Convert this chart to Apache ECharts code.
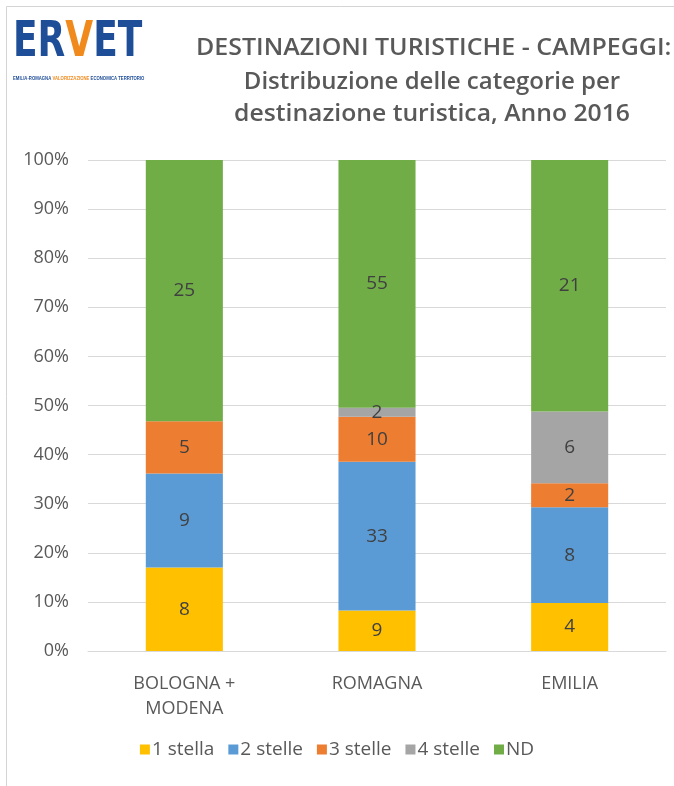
<!DOCTYPE html>
<html>
<head>
<meta charset="utf-8">
<script src="https://cdn.jsdelivr.net/npm/echarts@6/dist/echarts.min.js"></script>
<style>
  html, body { margin: 0; padding: 0; background: #fff; }
  #main { width: 674px; height: 786px; }
</style>
</head>
<body>
<div id="main"></div>
<script>
var chartDom = document.getElementById("main");
var myChart = echarts.init(chartDom);
var option;

// campeggi per categoria, anno 2016
const categories = ["BOLOGNA +\nMODENA", "ROMAGNA", "EMILIA"];
const stella1 = [8, 9, 4];
const stelle2 = [9, 33, 8];
const stelle3 = [5, 10, 2];
const stelle4 = [0, 2, 6];
const nd = [25, 55, 21];
const yTicks = [0, 10, 20, 30, 40, 50, 60, 70, 80, 90, 100];

const seriesDefs = [
  { name: "1 stella", data: stella1, color: "#FFC000" },
  { name: "2 stelle", data: stelle2, color: "#5B9BD5" },
  { name: "3 stelle", data: stelle3, color: "#ED7D31" },
  { name: "4 stelle", data: stelle4, color: "#A5A5A5" },
  { name: "ND", data: nd, color: "#70AD47" },
];

const totals = categories.map(function (c, i) {
  return seriesDefs.reduce(function (s, d) {
    return s + d.data[i];
  }, 0);
});

const titleStyle = {
  fontSize: 24,
  fontWeight: 600,
  fill: "#595959",
  fontFamily: "Open Sans",
  verticalAlign: "middle",
};

option = {
  animation: false,
  textStyle: { fontFamily: "Open Sans" },
  graphic: [
    {
      type: "rect",
      left: 4,
      top: 4,
      shape: { width: 680, height: 790 },
      style: { fill: "none", stroke: "#d4d4d4", lineWidth: 1 },
    },
    {
      type: "text",
      x: 13,
      y: 43,
      scaleX: 0.8,
      style: {
        text: "{e|ER}{v|V}{e|ET}",
        verticalAlign: "middle",
        rich: {
          e: { fontSize: 50, fontWeight: "bold", fill: "#1F4E99", fontFamily: "DejaVu Sans Condensed" },
          v: { fontSize: 50, fontWeight: "bold", fill: "#F08A1C", fontFamily: "DejaVu Sans Condensed" },
        },
      },
    },
    {
      type: "text",
      x: 13,
      y: 79,
      scaleX: 0.85,
      style: {
        text: "{a|EMILIA-ROMAGNA }{b|VALORIZZAZIONE }{a|ECONOMICA TERRITORIO}",
        verticalAlign: "middle",
        rich: {
          a: { fontSize: 5, fontWeight: "bold", fill: "#1F4E99" },
          b: { fontSize: 5, fontWeight: "bold", fill: "#F08A1C" },
        },
      },
    },
    {
      type: "text",
      x: 196,
      y: 48,
      scaleX: 1.04,
      style: Object.assign({ text: "DESTINAZIONI TURISTICHE - CAMPEGGI:", align: "left" }, titleStyle),
    },
    {
      type: "text",
      x: 432,
      y: 82,
      style: Object.assign({ text: "Distribuzione delle categorie per", align: "center" }, titleStyle),
    },
    {
      type: "text",
      x: 432,
      y: 114,
      scaleX: 1.03,
      style: Object.assign({ text: "destinazione turistica, Anno 2016", align: "center" }, titleStyle),
    },
  ],
  legend: {
    bottom: 22,
    left: "center",
    itemWidth: 10,
    itemHeight: 10,
    itemGap: 14,
    icon: "rect",
    textStyle: { fontSize: 19, color: "#595959", padding: [0, 0, 0, -3] },
    data: seriesDefs.map(function (d) {
      return d.name;
    }),
  },
  grid: {
    left: 88,
    right: 8,
    top: 160,
    bottom: 135,
  },
  xAxis: {
    type: "category",
    data: categories,
    axisTick: { show: false },
    axisLine: { lineStyle: { color: "#d9d9d9", width: 1 } },
    axisLabel: {
      fontSize: 18,
      color: "#595959",
      margin: 20,
      lineHeight: 25,
    },
  },
  yAxis: {
    type: "value",
    min: yTicks[0],
    max: yTicks[yTicks.length - 1],
    interval: 10,
    axisLine: { show: false },
    axisTick: { show: false },
    splitLine: { lineStyle: { color: "#d9d9d9", width: 1 } },
    axisLabel: {
      fontSize: 18,
      color: "#595959",
      margin: 19,
      formatter: "{value}%",
    },
  },
  series: seriesDefs.map(function (d) {
    return {
      name: d.name,
      type: "bar",
      stack: "tot",
      barWidth: "40%",
      itemStyle: { color: d.color },
      label: {
        show: true,
        position: "inside",
        fontSize: 19,
        color: "#404040",
        formatter: function (p) {
          var v = d.data[p.dataIndex];
          return v > 0 ? String(v) : "";
        },
      },
      data: d.data.map(function (v, i) {
        return (v / totals[i]) * 100;
      }),
    };
  }),
};

option && myChart.setOption(option);
</script>
</body>
</html>
